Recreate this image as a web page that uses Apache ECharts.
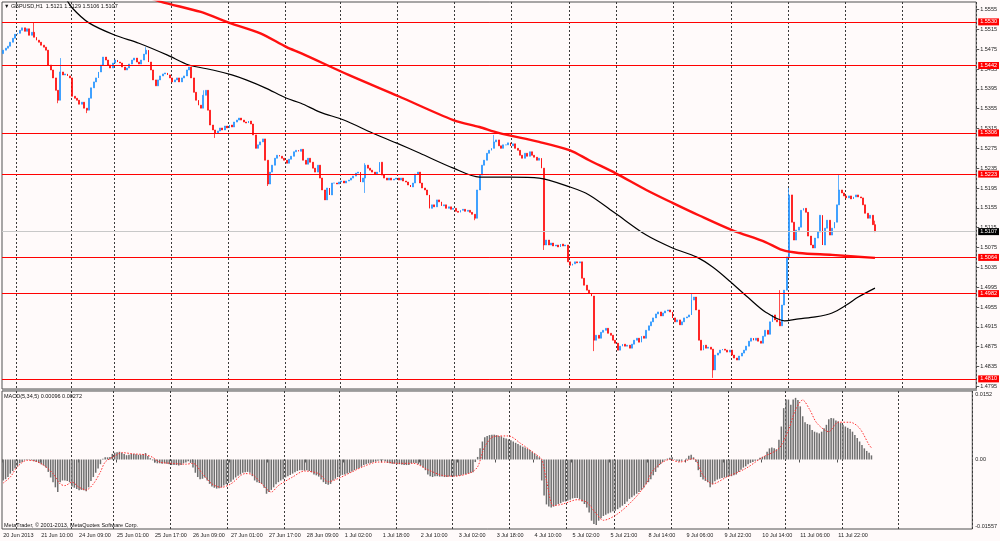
<!DOCTYPE html>
<html>
<head>
<meta http-equiv="Content-Type" content="text/html; charset=utf-8" />
<script type="text/javascript" src="https://cdn.jsdelivr.net/npm/echarts/dist/echarts.min.js"></script>
<style>
  html, body { margin: 0; padding: 0; background: #fffafa; }
  #chartDom { width: 1000px; height: 541px; }
</style>
</head>
<body>
<div id="chartDom"></div>
<script type="text/javascript">
// hourly closes, in 0.0001 above 1.0 (5473 -> 1.5473)
var closes = [
  5473,5477,5481,5489,5497,5505,5507,5513,5518,5511,
  5516,5503,5509,5499,5493,5489,5483,5479,5473,5443,
  5433,5417,5392,5372,5429,5423,5425,5421,5417,5380,
  5376,5372,5364,5368,5356,5352,5376,5397,5409,5417,
  5429,5443,5459,5453,5443,5437,5447,5453,5449,5447,
  5439,5433,5437,5445,5453,5457,5449,5445,5453,5465,
  5473,5449,5433,5413,5401,5413,5421,5425,5427,5423,
  5417,5409,5413,5417,5409,5417,5421,5433,5439,5417,
  5388,5372,5362,5356,5382,5392,5352,5322,5312,5306,
  5310,5316,5312,5320,5316,5322,5318,5328,5332,5336,
  5332,5328,5326,5330,5324,5302,5275,5282,5288,5294,
  5251,5203,5227,5241,5255,5261,5259,5255,5251,5245,
  5253,5259,5268,5271,5269,5273,5251,5243,5255,5247,
  5235,5227,5241,5215,5191,5171,5195,5181,5205,5205,
  5203,5207,5209,5205,5209,5211,5215,5219,5225,5227,
  5207,5215,5241,5235,5231,5227,5223,5227,5247,5221,
  5215,5211,5215,5211,5213,5215,5211,5215,5209,5207,
  5201,5197,5205,5223,5227,5205,5195,5191,5181,5154,
  5161,5157,5171,5167,5159,5161,5154,5157,5152,5154,
  5148,5146,5150,5152,5148,5150,5146,5142,5134,5191,
  5221,5241,5251,5265,5271,5275,5288,5292,5280,5275,
  5282,5282,5286,5280,5284,5275,5271,5261,5255,5265,
  5259,5268,5261,5257,5251,5255,5235,5080,5090,5080,
  5084,5078,5080,5076,5082,5078,5080,5046,5039,5042,
  5046,5044,5046,5013,4999,4989,4983,4977,4888,4898,
  4892,4904,4908,4912,4902,4898,4888,4882,4868,4876,
  4880,4876,4878,4872,4880,4888,4892,4884,4896,4892,
  4908,4917,4925,4933,4941,4945,4937,4943,4947,4949,
  4945,4933,4925,4929,4919,4925,4933,4935,4939,4969,
  4975,4949,4888,4868,4878,4872,4874,4870,4828,4858,
  4862,4868,4870,4868,4864,4868,4858,4852,4848,4856,
  4862,4868,4876,4886,4892,4888,4892,4886,4882,4896,
  4908,4900,4925,4939,4929,4925,4917,4959,4989,5056,
  5181,5126,5090,5110,5116,5150,5154,5146,5098,5080,
  5074,5094,5106,5140,5080,5114,5130,5100,5114,5126,
  5161,5191,5185,5179,5175,5179,5173,5177,5181,5177,
  5175,5161,5144,5134,5140,5121,5107
];
var firstOpen = 5466;
// long shadows: [bar, high, low]
var wicks = [
  [13,5528,null],[23,null,5366],[24,5457,null],[35,null,5346],[60,5479,null],
  [84,5392,null],[89,null,5296],[111,null,5199],[152,5245,5185],[198,null,5130],
  [206,5302,null],[227,null,5070],[248,null,4866],[289,4983,null],[298,null,4812],
  [326,4989,null],[330,5195,null],[351,5221,null],[366,5129,5106]
];

// moving averages: [bar, value]
var maBlack = [
  [26,5580],[29,5558],[36,5528],[47,5503],[57,5487],[69,5463],[78,5443],[88,5433],
  [96,5423],[102,5413],[110,5397],[119,5376],[125,5366],[133,5348],[143,5332],
  [155,5306],[165,5286],[175,5265],[189,5235],[200,5217],[213,5217],[225,5215],
  [238,5197],[246,5181],[257,5144],[270,5100],[281,5074],[291,5056],[298,5035],
  [306,5003],[313,4973],[320,4945],[328,4927],[334,4931],[341,4935],[348,4943],
  [354,4959],[359,4975],[366,4993]
];
var maRed = [
  [55,5590],[66,5571],[83,5550],[95,5528],[108,5507],[119,5479],[125,5467],
  [145,5423],[166,5380],[189,5332],[200,5318],[208,5306],[225,5288],[238,5271],
  [246,5251],[257,5225],[270,5191],[281,5165],[292,5140],[306,5110],[320,5086],
  [327,5070],[334,5064],[348,5060],[366,5054]
];

// MACD(5,34,5) histogram, in 0.0001
var macdHist = [
  -49,-46,-41,-33,-27,-21,-16,-9,-6,-2,
  1,-1,-2,-4,-6,-8,-11,-14,-19,-29,
  -42,-53,-65,-76,-53,-49,-49,-50,-53,-63,
  -66,-69,-72,-71,-72,-74,-65,-50,-41,-31,
  -21,-11,2,5,5,6,13,16,17,18,
  16,13,10,11,13,13,12,11,11,13,
  15,8,3,-2,-7,-9,-9,-10,-9,-10,
  -11,-13,-13,-13,-14,-13,-9,-7,-4,-8,
  -19,-31,-41,-46,-45,-42,-49,-57,-63,-66,
  -68,-67,-65,-61,-58,-55,-52,-47,-42,-38,
  -35,-31,-30,-29,-31,-39,-49,-53,-55,-57,
  -66,-80,-76,-71,-65,-58,-53,-49,-46,-42,
  -39,-36,-33,-30,-27,-25,-25,-26,-25,-27,
  -30,-35,-37,-40,-47,-53,-57,-59,-57,-49,
  -45,-41,-38,-36,-35,-33,-31,-28,-25,-22,
  -20,-17,-13,-11,-9,-8,-6,-5,-3,-2,
  -2,-4,-8,-9,-10,-10,-11,-11,-12,-13,
  -13,-13,-9,-8,-8,-11,-14,-19,-25,-35,
  -39,-41,-39,-39,-40,-40,-41,-41,-40,-39,
  -39,-39,-38,-37,-35,-34,-33,-31,-30,-6,
  6,26,42,52,55,57,58,58,57,55,
  54,51,49,47,45,42,39,36,33,30,
  28,25,22,18,14,9,5,-49,-84,-105,
  -110,-112,-110,-107,-104,-102,-99,-98,-96,-94,
  -91,-90,-90,-93,-98,-104,-112,-124,-143,-151,
  -153,-143,-137,-132,-129,-126,-124,-121,-120,-116,
  -112,-108,-104,-98,-92,-88,-84,-80,-76,-71,
  -66,-58,-53,-46,-37,-29,-19,-11,-6,-2,
  2,4,5,-1,-3,-5,-3,0,2,9,
  11,5,-6,-25,-41,-47,-50,-53,-65,-58,
  -51,-47,-45,-43,-42,-41,-39,-39,-37,-35,
  -29,-24,-19,-16,-11,-8,-6,-3,-2,4,
  6,8,18,26,28,26,24,46,77,120,
  140,140,128,140,144,139,124,101,87,83,
  81,69,65,63,61,65,73,81,94,97,
  96,91,89,85,81,77,74,71,65,57,
  50,42,34,26,20,16,9.6
];
// signal line: [bar, value in 0.0001]
var macdSignal = [
  [0,-55],[3,-41],[6,-17],[10,-2],[13,-3],[17,-13],[21,-33],[24,-57],[26,-61],
  [29,-53],[32,-65],[35,-71],[38,-57],[41,-29],[43,-6],[47,8],[50,16],[55,13],
  [60,11],[63,5],[66,-6],[71,-9],[77,-11],[80,-9],[84,-33],[88,-57],[92,-65],
  [96,-57],[102,-33],[105,-35],[109,-57],[113,-76],[116,-61],[122,-41],[127,-27],
  [133,-33],[137,-52],[141,-45],[147,-29],[152,-16],[158,-6],[161,-6],[166,-9],
  [173,-9],[179,-24],[185,-37],[190,-39],[197,-31],[200,-17],[203,30],[207,54],
  [213,55],[218,38],[224,14],[227,0],[229,-49],[232,-108],[236,-104],[242,-94],
  [246,-100],[250,-127],[253,-142],[259,-127],[266,-92],[271,-57],[274,-25],
  [281,0],[285,-6],[291,2],[295,-37],[299,-57],[305,-41],[313,-21],[320,5],
  [327,26],[331,69],[334,116],[337,139],[340,116],[343,85],[348,65],[352,87],
  [357,87],[361,73],[365,34],[366,27.2]
];

// horizontal lines drawn on the chart and their names
var levels = [1.5530, 1.5442, 1.5306, 1.5223, 1.5055, 1.4982, 1.4810];
var levelNames = ['1.5530', '1.5442', '1.5306', '1.5223', '1.5064', '1.4982', '1.4810'];

var priceTicks = [1.5555,1.5515,1.5475,1.5435,1.5395,1.5355,1.5315,1.5275,1.5235,1.5195,
                  1.5155,1.5115,1.5075,1.5035,1.4995,1.4955,1.4915,1.4875,1.4835,1.4795];
var macdTicks = [0.0152, 0, -0.01557];
var macdTickNames = ['0.0152', '0.00', '-0.01557'];

var timeLabels = ['20 Jun 2013','21 Jun 10:00','24 Jun 09:00','25 Jun 01:00','25 Jun 17:00',
  '26 Jun 09:00','27 Jun 01:00','27 Jun 17:00','28 Jun 09:00','1 Jul 02:00','1 Jul 18:00',
  '2 Jul 10:00','3 Jul 02:00','3 Jul 18:00','4 Jul 10:00','5 Jul 02:00','5 Jul 21:00',
  '8 Jul 14:00','9 Jul 06:00','9 Jul 22:00','10 Jul 14:00','11 Jul 06:00','11 Jul 22:00'];
var labelStep = 16;
var daySplits = [6,29,47,71,95,119,142,166,190,214,238,258,282,306,330,354,378];
var slotCount = 409;   // visible bar slots incl. right shift

var FONT = 'Liberation Sans';

function px(v) { return 1 + v / 10000; }

var candles = closes.map(function (c, i) {
    var o = i === 0 ? firstOpen : closes[i - 1];
    return [o, c, Math.min(o, c), Math.max(o, c)];
});
wicks.forEach(function (w) {
    if (w[1] != null) candles[w[0]][3] = w[1];
    if (w[2] != null) candles[w[0]][2] = w[2];
});
candles = candles.map(function (d) { return d.map(px); });

var slots = [];
for (var i = 0; i < slotCount; i++) slots.push('b' + i);

var last = candles[candles.length - 1];
var headText = 'GBPUSD,H1  ' + [last[0], last[3], last[2], last[1]].map(function (v) { return v.toFixed(4); }).join(' ');
var macdText = 'MACD(5,34,5) ' + (macdHist[macdHist.length - 1] / 10000).toFixed(5) + ' ' +
               (macdSignal[macdSignal.length - 1][1] / 10000).toFixed(5);

function isDay(idx) { return daySplits.indexOf(idx) >= 0; }
function isLabel(idx) { return idx % labelStep === 0 && idx / labelStep < timeLabels.length; }

var gridLine = { show: true, interval: isDay, lineStyle: { color: '#3a3a3a', type: [2, 2], width: 1 } };

var levelLines = levels.map(function (v, k) {
    return {
        yAxis: v,
        lineStyle: { color: '#ff0000', width: 1, type: 'solid' },
        label: { formatter: levelNames[k], backgroundColor: '#ff0000', color: '#ffffff' }
    };
});
levelLines.unshift({
    yAxis: last[1],
    lineStyle: { color: '#c8c8c8', width: 1, type: 'solid' },
    label: { formatter: last[1].toFixed(4), backgroundColor: '#000000', color: '#ffffff' }
});

var myChart = echarts.init(document.getElementById('chartDom'));
myChart.setOption({
    animation: false,
    backgroundColor: '#fffafa',
    grid: [
        { left: 2, top: 2, width: 975, height: 387, show: true, borderColor: '#505050', borderWidth: 1 },
        { left: 2, top: 391, width: 975, height: 138, show: true, borderColor: '#505050', borderWidth: 1 }
    ],
    xAxis: [
        { type: 'category', gridIndex: 0, data: slots, boundaryGap: true,
          axisLine: { show: false }, axisTick: { show: false }, axisLabel: { show: false },
          splitLine: gridLine },
        { type: 'category', gridIndex: 1, data: slots, boundaryGap: true,
          axisLine: { show: false },
          axisTick: { show: true, interval: isLabel, length: 3, lineStyle: { color: '#555' } },
          axisLabel: { show: true, interval: isLabel, align: 'left', margin: 3,
                       fontSize: 5.5, fontFamily: FONT, color: '#222',
                       formatter: function (v, idx) { return isLabel(idx) ? timeLabels[idx / labelStep] : ''; } },
          splitLine: gridLine }
    ],
    yAxis: [
        { type: 'value', gridIndex: 0, position: 'right', min: 1.47896, max: 1.55701,
          axisLine: { show: false }, splitLine: { show: false },
          axisTick: { show: true, customValues: priceTicks, length: 3, lineStyle: { color: '#555' } },
          axisLabel: { customValues: priceTicks, margin: 4, fontSize: 5.5, fontFamily: FONT, color: '#222',
                       formatter: function (v) { return v.toFixed(4); } } },
        { type: 'value', gridIndex: 1, position: 'right', min: -0.01624, max: 0.016,
          axisLine: { show: false }, splitLine: { show: false },
          axisTick: { show: false },
          axisLabel: { customValues: macdTicks, margin: 3, fontSize: 5.5, fontFamily: FONT, color: '#222',
                       formatter: function (v) {
                           var k = macdTicks.indexOf(v);
                           return k >= 0 ? macdTickNames[k] : '';
                       } } }
    ],
    graphic: [
        { type: 'text', left: 4, top: 3, z: 10,
          style: { text: '\u25BC ' + headText, fontSize: 5.5, fontFamily: FONT, fill: '#111' } },
        { type: 'text', left: 4, top: 393, z: 10,
          style: { text: macdText, fontSize: 5.5, fontFamily: FONT, fill: '#111' } },
        { type: 'text', left: 4, top: 522, z: 10,
          style: { text: 'MetaTrader, \u00A9 2001-2013, MetaQuotes Software Corp.', fontSize: 5.5, fontFamily: FONT, fill: '#111' } },
        { type: 'rect', left: 2, top: 389, z: 10, shape: { width: 975, height: 2 }, style: { fill: '#9a9a9a' } }
    ],
    series: [
        {
            type: 'candlestick', xAxisIndex: 0, yAxisIndex: 0, data: candles,
            barWidth: 1.4,
            itemStyle: { color: '#1e90ff', color0: '#ff0000', borderColor: '#1e90ff', borderColor0: '#ff0000', borderWidth: 0.7 },
            z: 2
        },
        {
            type: 'line', xAxisIndex: 0, yAxisIndex: 0, symbol: 'none', smooth: 0.3,
            data: maBlack.map(function (p) { return [p[0], px(p[1])]; }),
            lineStyle: { color: '#000000', width: 1.2 },
            markLine: {
                silent: true, symbol: ['none', 'none'], animation: false, precision: 5,
                label: { show: true, position: 'end', distance: 2, fontSize: 5.5, fontFamily: FONT,
                         padding: [1, 2, 0, 2] },
                data: levelLines
            },
            z: 3
        },
        {
            type: 'line', xAxisIndex: 0, yAxisIndex: 0, symbol: 'none', smooth: 0.3,
            data: maRed.map(function (p) { return [p[0], px(p[1])]; }),
            lineStyle: { color: '#ff1010', width: 2.4 }, z: 3
        },
        {
            type: 'bar', xAxisIndex: 1, yAxisIndex: 1, barWidth: 1.5,
            data: macdHist.map(function (v) { return v / 10000; }),
            itemStyle: { color: '#6e6e6e' }, z: 2
        },
        {
            type: 'line', xAxisIndex: 1, yAxisIndex: 1, symbol: 'none', smooth: 0.3,
            data: macdSignal.map(function (p) { return [p[0], p[1] / 10000]; }),
            lineStyle: { color: '#ff3030', width: 1, type: [1.5, 1.5] }, z: 3
        }
    ]
});
window.onresize = myChart.resize;
</script>
</body>
</html>
